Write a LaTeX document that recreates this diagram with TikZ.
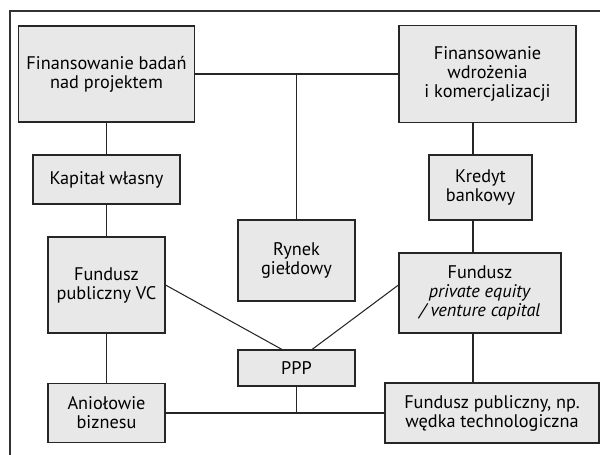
\documentclass[tikz,border=0pt]{standalone}
\usepackage{fontspec}
\setmainfont{PT Sans}
\usetikzlibrary{calc}

\begin{document}
\begin{tikzpicture}[x=0.02cm, y=-0.02cm,
    box/.style={draw=black!85, fill=black!9, line width=0.6pt, inner sep=0pt,
      align=center, font=\fontsize{10.4}{10.8}\selectfont},
    link/.style={draw=black!85, line width=0.6pt}]
    \useasboundingbox (0,0) rectangle (600,455);
    % ramka
    \draw[line width=0.6pt, black!80] (10,455) -- (10,11) -- (600,11);

    \node[box, minimum width=3.52cm, minimum height=1.92cm] (fb) at (106.5,74) {Finansowanie badań\\nad projektem};
    \node[box, minimum width=3.54cm, minimum height=1.94cm] (fw) at (487.5,74) {Finansowanie\\wdrożenia\\i komercjalizacji};
    \node[box, minimum width=2.94cm, minimum height=0.98cm] (kw) at (106.5,179.5) {Kapitał własny};
    \node[box, minimum width=2.06cm, minimum height=1.30cm] (kb) at (480.5,187.5) {Kredyt\\bankowy};
    \node[box, minimum width=2.34cm, minimum height=1.62cm] (rg) at (296.5,260.5) {Rynek\\giełdowy};
    \node[box, minimum width=2.34cm, minimum height=1.92cm] (fvc) at (106.5,285) {Fundusz\\publiczny VC};
    \node[box, minimum width=3.24cm, minimum height=1.60cm] (fpe) at (480,293) {Fundusz\\\textit{private equity}\\\textit{/ venture capital}};
    \node[box, minimum width=2.34cm, minimum height=0.72cm] (ppp) at (296.5,368) {PPP};
    \node[box, minimum width=2.34cm, minimum height=1.18cm] (ab) at (106.5,413) {Aniołowie\\biznesu};
    \node[box, minimum width=4.28cm, minimum height=1.20cm] (fpn) at (492,413) {Fundusz publiczny, np.\\wędka technologiczna};

    \coordinate (rx) at (473,0);

    \draw[link] (fb) -- (fw);
    \draw[link] (rg.north) -- (rg.north |- fb.east);
    \draw[link] (fb) -- (kw);
    \draw[link] (kw) -- (fvc);
    \draw[link] (fvc) -- (ab);
    \draw[link] (fw.south -| rx) -- (kb.north -| rx);
    \draw[link] (kb.south -| rx) -- (fpe.north -| rx);
    \draw[link] (fpe.south -| rx) -- (fpn.north -| rx);
    \draw[link] (fvc.east) -- ($(ppp.north)+(-14.5,0)$);
    \draw[link] ($(fpe.west)+(0,-8)$) -- ($(ppp.north)+(15.5,0)$);
    \draw[link] (ab.east) -- (fpn.west);
    \draw[link] (ppp.south) -- (ppp.south |- ab.east);
\end{tikzpicture}
\end{document}
